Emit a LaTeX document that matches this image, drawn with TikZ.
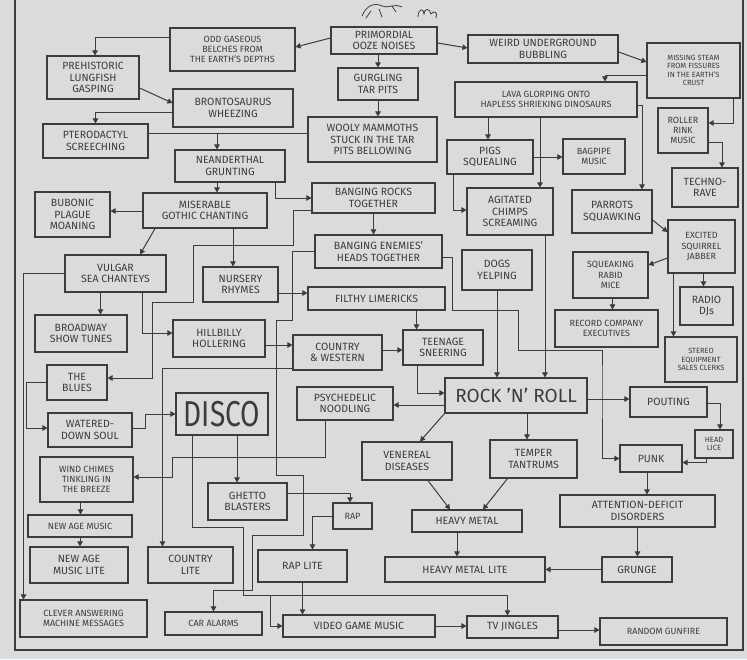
\documentclass[tikz,border=0pt]{standalone}
\usepackage{fontspec}
\setmainfont{Fira Sans}
\usetikzlibrary{arrows.meta}
\definecolor{paper}{HTML}{DADBDD}
\definecolor{ink}{HTML}{3C3C3C}
\tikzset{
  box/.style={draw=ink,line width=1.1pt,align=center,text=ink,font=\fontsize{10.5}{11.5}\selectfont,inner sep=1pt},
  sbox/.style={box,font=\fontsize{9}{10.2}\selectfont},
  xsbox/.style={box,font=\fontsize{7.5}{8.6}\selectfont},
  arr/.style={-{Triangle[length=5pt,width=5.5pt]},line width=1pt,draw=ink},
  wire/.style={line width=1pt,draw=ink},
}
\begin{document}
\begin{tikzpicture}[x=1pt,y=-1pt]
  % paper, frame and the little doodle
  \fill[paper] (0,0) rectangle (747,659);
  \useasboundingbox (0,0) rectangle (747,659);
  \draw[ink,line width=1.4pt] (15,0) -- (15,650) -- (743,650) -- (743,0);
  \draw[ink,line width=0.8pt,line cap=round] (362,16) .. controls (366,6) and (374,2) .. (382,6) .. controls (388,9) and (394,3) .. (402,7);
  \draw[ink,line width=0.8pt,line cap=round] (371,11) -- (366,18) (379,9) -- (382,17) (392,6) -- (396,12);
  \draw[ink,line width=0.8pt,line cap=round] (418,17) .. controls (418,8) and (424,8) .. (424,14) .. controls (424,8) and (430,8) .. (431,14) .. controls (434,10) and (438,12) .. (436,18);
  % primeval noises
  \node[box,minimum width=106,minimum height=27] (ooze) at (384,40.5) {PRIMORDIAL\\OOZE NOISES};
  \node[sbox,minimum width=125,minimum height=43] (odd) at (232.5,49.5) {ODD GASEOUS\\BELCHES FROM\\THE EARTH'S DEPTHS};
  \node[box,minimum width=150,minimum height=28] (weird) at (543,49) {WEIRD UNDERGROUND\\BUBBLING};
  \node[xsbox,minimum width=93,minimum height=55] (steam) at (693.5,70.5) {MISSING STEAM\\FROM FISSURES\\IN THE EARTH'S\\CRUST};
  \node[box,minimum width=92,minimum height=43] (lung) at (93,77.5) {PREHISTORIC\\LUNGFISH\\GASPING};
  \node[box,minimum width=80,minimum height=32] (tar) at (378,84) {GURGLING\\TAR PITS};
  \node[sbox,minimum width=182,minimum height=35] (lava) at (546,99.5) {LAVA GLORPING ONTO\\HAPLESS SHRIEKING DINOSAURS};
  \node[box,minimum width=120,minimum height=38] (bronto) at (233,108) {BRONTOSAURUS\\WHEEZING};
  \node[sbox,minimum width=50,minimum height=45] (roller) at (683,130.5) {ROLLER\\RINK\\MUSIC};
  \node[box,minimum width=129,minimum height=45] (mammoth) at (372.5,139.5) {WOOLY MAMMOTHS\\STUCK IN THE TAR\\PITS BELLOWING};
  \node[box,minimum width=105,minimum height=34] (ptero) at (95.5,141) {PTERODACTYL\\SCREECHING};
  \node[box,minimum width=86,minimum height=34] (pigs) at (490,157) {PIGS\\SQUEALING};
  \node[sbox,minimum width=62,minimum height=35] (bagpipe) at (594,156.5) {BAGPIPE\\MUSIC};
  \node[box,minimum width=110,minimum height=32] (neand) at (230,166) {NEANDERTHAL\\GRUNTING};
  \node[box,minimum width=66,minimum height=39] (techno) at (705,187.5) {TECHNO-\\RAVE};
  % early humans
  \node[box,minimum width=123,minimum height=30] (rocks) at (373.5,198) {BANGING ROCKS\\TOGETHER};
  \node[box,minimum width=124,minimum height=35] (gothic) at (205,210.5) {MISERABLE\\GOTHIC CHANTING};
  \node[box,minimum width=86,minimum height=47] (chimps) at (510,211.5) {AGITATED\\CHIMPS\\SCREAMING};
  \node[box,minimum width=80,minimum height=43] (parrots) at (612,211.5) {PARROTS\\SQUAWKING};
  \node[box,minimum width=75,minimum height=45] (bubonic) at (72.5,214.5) {BUBONIC\\PLAGUE\\MOANING};
  \node[sbox,minimum width=67,minimum height=53] (squirrel) at (701.5,246.5) {EXCITED\\SQUIRREL\\JABBER};
  \node[box,minimum width=127,minimum height=33] (enemies) at (378.5,251.5) {BANGING ENEMIES'\\HEADS TOGETHER};
  \node[box,minimum width=70,minimum height=40] (dogs) at (497,270) {DOGS\\YELPING};
  \node[box,minimum width=101,minimum height=37] (vulgar) at (115.5,273.5) {VULGAR\\SEA CHANTEYS};
  \node[sbox,minimum width=75,minimum height=46] (mice) at (610.5,275) {SQUEAKING\\RABID\\MICE};
  \node[box,minimum width=75,minimum height=35] (nursery) at (240.5,284.5) {NURSERY\\RHYMES};
  \node[box,minimum width=137,minimum height=23] (filthy) at (376.5,298.5) {FILTHY LIMERICKS};
  \node[box,minimum width=53,minimum height=38] (djs) at (706.5,306) {RADIO\\DJs};
  \node[sbox,minimum width=103,minimum height=37] (execs) at (606.5,328.5) {RECORD COMPANY\\EXECUTIVES};
  \node[box,minimum width=92,minimum height=37] (broadway) at (81,333.5) {BROADWAY\\SHOW TUNES};
  \node[box,minimum width=92,minimum height=37] (hillbilly) at (219,338.5) {HILLBILLY\\HOLLERING};
  \node[box,minimum width=80,minimum height=35] (teen) at (443,347.5) {TEENAGE\\SNEERING};
  \node[box,minimum width=89,minimum height=35] (country) at (337.5,352.5) {COUNTRY\\\& WESTERN};
  \node[xsbox,minimum width=72,minimum height=45] (clerks) at (701,359.5) {STEREO\\EQUIPMENT\\SALES CLERKS};
  % the modern age
  \node[box,minimum width=60,minimum height=35] (blues) at (77,382.5) {THE\\BLUES};
  \node[box,minimum width=142,minimum height=35,font=\fontsize{19}{19}\selectfont] (rock) at (516,395.5) {ROCK 'N' ROLL};
  \node[box,minimum width=77,minimum height=30] (pouting) at (668.5,402) {POUTING};
  \node[box,minimum width=96,minimum height=33] (psych) at (345,403.5) {PSYCHEDELIC\\NOODLING};
  \node[box,minimum width=92,minimum height=42] (disco) at (222,414) {\scalebox{0.78}[1]{\fontsize{36}{36}\selectfont DISCO}};
  \node[box,minimum width=84,minimum height=34] (soul) at (90,430) {WATERED-\\DOWN SOUL};
  \node[xsbox,minimum width=38,minimum height=28] (lice) at (714,444) {HEAD\\LICE};
  \node[box,minimum width=62,minimum height=27] (punk) at (651,458.5) {PUNK};
  \node[box,minimum width=87,minimum height=38] (temper) at (533.5,459) {TEMPER\\TANTRUMS};
  \node[box,minimum width=90,minimum height=38] (venereal) at (407,461) {VENEREAL\\DISEASES};
  \node[sbox,minimum width=93,minimum height=45] (chimes) at (86.5,479.5) {WIND CHIMES\\TINKLING IN\\THE BREEZE};
  \node[box,minimum width=79,minimum height=37] (ghetto) at (247.5,501.5) {GHETTO\\BLASTERS};
  \node[box,minimum width=155,minimum height=32] (adhd) at (637.5,511) {ATTENTION-DEFICIT\\DISORDERS};
  \node[sbox,minimum width=39,minimum height=26] (rap) at (352.5,516) {RAP};
  \node[box,minimum width=110,minimum height=22] (metal) at (467,521) {HEAVY METAL};
  \node[sbox,minimum width=104,minimum height=22] (newage) at (80,526) {NEW AGE MUSIC};
  \node[box,minimum width=98,minimum height=36] (newlite) at (79,565) {NEW AGE\\MUSIC LITE};
  \node[box,minimum width=85,minimum height=36] (ctrylite) at (190.5,565) {COUNTRY\\LITE};
  \node[box,minimum width=89,minimum height=32] (raplite) at (302.5,566) {RAP LITE};
  \node[box,minimum width=160,minimum height=25] (metallite) at (465,569.5) {HEAVY METAL LITE};
  \node[box,minimum width=70,minimum height=25] (grunge) at (637,569.5) {GRUNGE};
  \node[sbox,minimum width=127,minimum height=37] (clever) at (83.5,618.5) {CLEVER ANSWERING\\MACHINE MESSAGES};
  \node[sbox,minimum width=97,minimum height=23] (caralarm) at (213.5,623.5) {CAR ALARMS};
  \node[box,minimum width=152,minimum height=22] (video) at (359,626) {VIDEO GAME MUSIC};
  \node[box,minimum width=91,minimum height=22] (tv) at (512.5,627) {TV JINGLES};
  \node[sbox,minimum width=127,minimum height=27] (gunfire) at (663.5,631.5) {RANDOM GUNFIRE};
  % junctions
  \coordinate (mj) at (217,133);
  \coordinate (dv) at (270,595);
  % arrows, top part
  \draw[arr] ([yshift=2.5pt]ooze.west) -- ([yshift=2.5pt]odd.east);
  \draw[arr] ([yshift=-2.5pt]ooze.east) -- ([yshift=1pt]weird.west);
  \draw[arr] ([xshift=-6pt]ooze.south) -- (tar.north);
  \draw[arr] (tar.south) -- ([xshift=5.5pt]mammoth.north);
  \draw[arr] ([yshift=-3pt]weird.east) -- ([yshift=8.5pt]steam.west);
  \draw[arr] ([yshift=12.5pt]odd.west) -| ([xshift=2pt]lung.north);
  \draw[arr] ([yshift=-10.5pt]lung.east) -- ([yshift=5pt]bronto.west);
  \draw[arr] ([yshift=-4pt]bronto.west) -| (ptero.north);
  \draw[wire] ([yshift=8pt]ptero.east) -- (mj);
  \draw[wire] ([yshift=6.5pt]mammoth.west) -- (mj);
  \draw[arr] (mj) -- (mj |- neand.north);
  \draw[arr] ([xshift=-13pt]neand.south) -- ([xshift=12pt]gothic.north);
  \draw[arr] ([xshift=45pt]neand.south) |- (rocks.west);
  \draw[arr] ([yshift=-0.5pt]gothic.west) -- ([yshift=3.5pt]bubonic.east);
  \draw[arr] ([xshift=-50pt]gothic.south) -- ([xshift=24.5pt]vulgar.north);
  \draw[arr] ([xshift=28pt]gothic.south) -- ([xshift=-7.5pt]nursery.north);
  \draw[arr] ([yshift=-8.5pt]nursery.east) -- ([yshift=5.5pt]filthy.west);
  \draw[arr] (rocks.south) -- ([xshift=-5pt]enemies.north);
  \draw[arr] ([yshift=-12pt]rocks.west) -| (293,245) -| (193,302) -| (152,378) -- ([yshift=4.5pt]blues.east);
  \draw[arr] ([yshift=-4.5pt]steam.west) -| ([xshift=59pt]lava.north);
  \draw[arr] ([xshift=40pt]steam.south) |- ([yshift=7.5pt]roller.east);
  \draw[arr] ([yshift=-11.5pt]roller.east) -| ([xshift=17pt]techno.north);
  \draw[arr] ([xshift=-58pt]lava.south) -- ([xshift=-2pt]pigs.north);
  \draw[arr] ([xshift=-6pt]lava.south) -- ([xshift=30pt]chimps.north);
  \draw[arr] ([yshift=-5.5pt]lava.east) -| ([xshift=30pt]parrots.north);
  \draw[arr] (pigs.east) -- ([yshift=-0.5pt]bagpipe.west);
  \draw[arr] ([xshift=-37pt]pigs.south) |- ([yshift=1.5pt]chimps.west);
  \draw[arr] ([yshift=-8.5pt]parrots.east) -- ([yshift=14.5pt]squirrel.west);
  \draw[arr] ([yshift=-11.5pt]squirrel.west) -- ([yshift=10pt]mice.east);
  \draw[arr] ([xshift=2pt]squirrel.south) -- ([xshift=-3pt]djs.north);
  \draw[arr] ([xshift=-28pt]squirrel.south) -- ([xshift=-27.5pt]clerks.north);
  \draw[arr] ([xshift=2pt]mice.south) -- ([xshift=6pt]execs.north);
  % arrows, middle part
  \draw[arr] ([xshift=-15pt]vulgar.south) -- ([xshift=19.5pt]broadway.north);
  \draw[arr] ([xshift=26.5pt]vulgar.south) |- ([yshift=5.5pt]hillbilly.west);
  \draw[arr] (vulgar.west) -| ([xshift=-60pt]clever.north);
  \draw[arr] ([yshift=-6.5pt]hillbilly.east) -- ([yshift=7.5pt]country.west);
  \draw[arr] ([yshift=2.5pt]country.east) -- ([yshift=-2.5pt]teen.west);
  \draw[arr] ([yshift=-16pt]country.west) -| ([xshift=-28pt]ctrylite.north);
  \draw[arr] ([xshift=40pt]filthy.south) -- ([xshift=-26.5pt]teen.north);
  \draw[arr] ([xshift=-26pt]teen.south) |- ([yshift=2.5pt]rock.west);
  \draw[arr] (dogs.south) -- ([xshift=-19pt]rock.north);
  \draw[arr] ([xshift=35pt]chimps.south) -- ([xshift=29pt]rock.north);
  \draw[arr] (enemies.west) -| (292,320) -| (276,475) -| (303,535) -| (252,590) -| (caralarm.north);
  \draw[arr] ([yshift=-5.5pt]enemies.east) -| (452,310) -| (518,350) -| (602,380) |- (punk.west);
  \draw[arr] ([yshift=-3.5pt]rock.east) -- ([yshift=3pt]pouting.west);
  \draw[arr] ([yshift=-1pt]pouting.east) -| ([xshift=6pt]lice.north);
  \draw[arr] ([xshift=-8pt]lice.south) |- ([yshift=-4pt]punk.east);
  \draw[arr] ([yshift=-9.5pt]rock.west) -- ([yshift=-1.5pt]psych.east);
  \draw[arr] (rock.south west) -- ([xshift=13pt]venereal.north);
  \draw[arr] ([xshift=11pt]rock.south) -- ([xshift=-6.5pt]temper.north);
  % arrows, bottom part
  \draw[arr] (blues.west) -- ++(-20,0) |- ([yshift=2pt]soul.west);
  \draw[arr] ([yshift=2pt]soul.east) -- ++(13,0) |- (disco.west);
  \draw[arr] ([xshift=-20pt]psych.south) |- (172,457) |- ([yshift=2.5pt]chimes.east);
  \draw[arr] ([xshift=-6pt]chimes.south) -- ([xshift=0.5pt]newage.north);
  \draw[arr] (newage.south) -- ([xshift=1pt]newlite.north);
  \draw[arr] ([xshift=15pt]disco.south) -- ([xshift=-10.5pt]ghetto.north);
  \draw[wire] ([xshift=-30pt]disco.south) |- (243,527) |- (dv);
  \draw[arr] (dv) -| ([xshift=-5pt]tv.north);
  \draw[arr] (dv) |- (video.west);
  \draw[arr] ([yshift=8.5pt]ghetto.east) -| ([xshift=-2.5pt]rap.north);
  \draw[arr] (rap.west) -| ([xshift=10pt]raplite.north);
  \draw[arr] (raplite.south) -- ([xshift=-56.5pt]video.north);
  \draw[arr] (video.east) -- ([yshift=1pt]tv.west);
  \draw[arr] ([yshift=-3pt]tv.east) -- ([yshift=1.5pt]gunfire.west);
  \draw[arr] ([xshift=21pt]venereal.south) -- ([xshift=-17pt]metal.north);
  \draw[arr] ([xshift=-26pt]temper.south) -- ([xshift=16pt]metal.north);
  \draw[arr] ([xshift=-10pt]metal.south) -- ([xshift=-8pt]metallite.north);
  \draw[arr] ([xshift=-4pt]punk.south) -- ([xshift=9.5pt]adhd.north);
  \draw[arr] (adhd.south) -- ([xshift=0.5pt]grunge.north);
  \draw[arr] (grunge.west) -- (metallite.east);
\end{tikzpicture}
\end{document}
